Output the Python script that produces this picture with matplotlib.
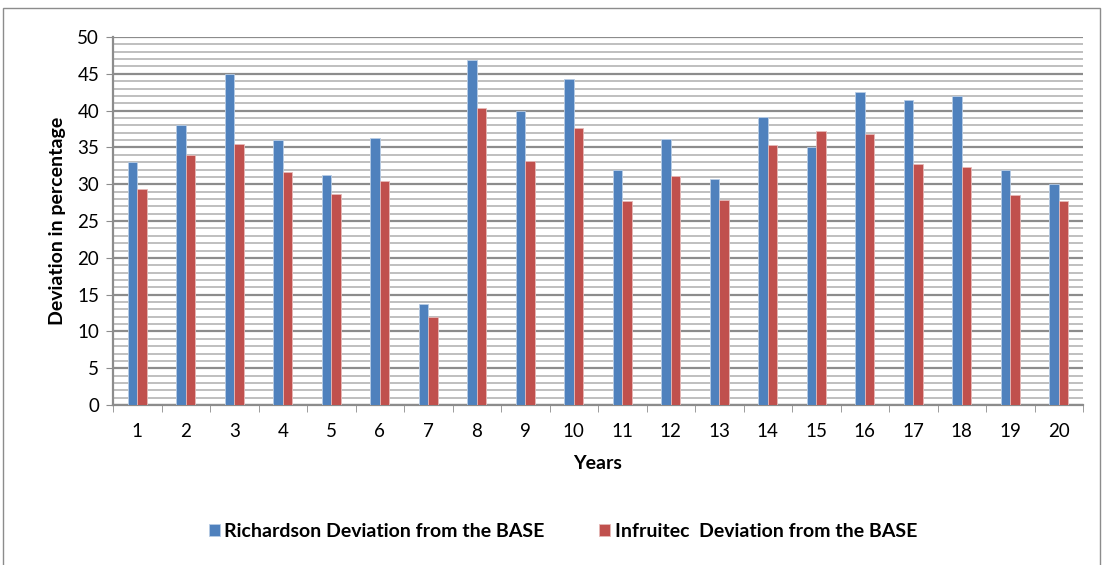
import numpy as np
import matplotlib.pyplot as plt
from matplotlib.patches import Rectangle
from matplotlib.ticker import MultipleLocator, FixedLocator

plt.rcParams['font.family'] = ['Lato', 'DejaVu Sans']

years = list(range(1, 21))
richardson = [33.0, 38.0, 45.0, 36.0, 31.3, 36.3, 13.7, 46.9, 39.9, 44.3,
              32.0, 36.1, 30.7, 39.2, 35.0, 42.5, 41.5, 42.0, 32.0, 30.0]
infruitec = [29.3, 34.0, 35.4, 31.6, 28.7, 30.4, 12.0, 40.4, 33.1, 37.6,
             27.7, 31.1, 27.9, 35.3, 37.2, 36.8, 32.7, 32.3, 28.6, 27.7]

fig = plt.figure(figsize=(11.04, 5.65), dpi=100)
ax = fig.add_axes([0.1024, 0.283, 0.8786, 0.6515])

x = np.arange(len(years))
w = 0.2
ax.bar(x - w / 2, richardson, w, color='#4f81bd', edgecolor='#b9cde5', linewidth=0.6,
       label='Richardson Deviation from the BASE', zorder=3)
ax.bar(x + w / 2, infruitec, w, color='#c0504d', edgecolor='#e6b9b8', linewidth=0.6,
       label='Infruitec  Deviation from the BASE', zorder=3)

ax.set_xlim(-0.5, len(years) - 0.5)
ax.set_ylim(0, 50)
ax.yaxis.set_major_locator(MultipleLocator(5))
ax.yaxis.set_minor_locator(MultipleLocator(1))
ax.grid(which='major', axis='y', color='#8c8c8c', linewidth=1.6, zorder=0)
ax.grid(which='minor', axis='y', color='#bfbfbf', linewidth=1.4, zorder=0)

ax.set_xticks(x)
ax.set_xticklabels([str(y) for y in years])
ax.xaxis.set_minor_locator(FixedLocator(np.arange(-0.5, len(years), 1.0)))
ax.tick_params(axis='x', which='major', length=0, labelsize=13.5, pad=13)
ax.tick_params(axis='x', which='minor', length=5, color='#8c8c8c')
ax.tick_params(axis='y', which='major', length=5, color='#8c8c8c', labelsize=13.5, pad=5)
ax.tick_params(axis='y', which='minor', length=0)

for s in ['top', 'right']:
    ax.spines[s].set_visible(False)
for s in ['left', 'bottom']:
    ax.spines[s].set_color('#8c8c8c')
    ax.spines[s].set_linewidth(1.6)

ax.set_xlabel('Years', fontsize=14, fontweight='bold', labelpad=11)
ax.set_ylabel('Deviation in percentage', fontsize=14, fontweight='bold', labelpad=8)

fig.legend(loc='center', bbox_to_anchor=(0.51, 0.06), ncol=2, frameon=False,
           prop={'weight': 'bold', 'size': 14}, handlelength=0.55, handleheight=0.55,
           handletextpad=0.25, columnspacing=2.8)

fig.patches.append(Rectangle((3 / 1104, -0.05), 1097 / 1104, 1.0 - 8 / 565 + 0.05,
                             transform=fig.transFigure, fill=False,
                             edgecolor='#8c8c8c', linewidth=1.0))

fig.savefig('out.png', dpi=100)
